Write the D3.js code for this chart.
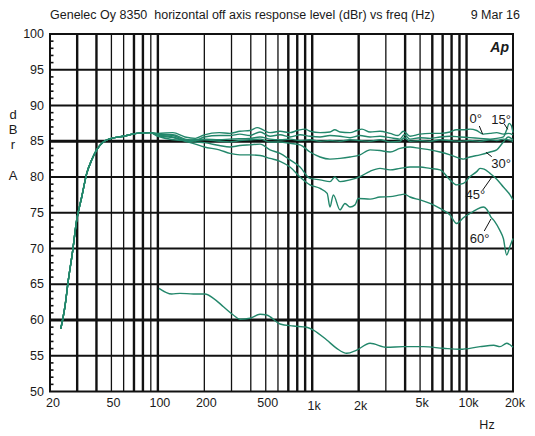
<!DOCTYPE html>
<html><head><meta charset="utf-8">
<script src="https://cdn.jsdelivr.net/npm/d3@7"></script>
<style>body{margin:0;background:#fff} text{font-family:"Liberation Sans",Arial,sans-serif;fill:#1a1a1a;white-space:pre}</style>
</head><body><svg id="c" width="535" height="436"></svg>
<script>
// ---- data (frequency Hz, level dBr) ----
const lowEnd = [[23.5,58.8],[25,61.9],[26.3,65.6],[27.9,69.3],[29.8,74.0],[32.1,77.2],[34.6,80.5],[37.3,82.4],[40.1,83.8],[44.3,84.9],[50,85.4],[60,85.7],[73,86.1],[89,86.2]];

const deg0 = [[100,86.1],[125,86.2],[150,85.6],[175,85.4],[200,85.9],[250,86.2],[293,86.1],[340,86.4],[395,86.5],[440,86.9],[480,86.6],[533,86.2],[619,86.4],[718,86.2],[800,86.5],[900,86.7],[968,86.4],[1124,86.2],[1304,86.3],[1400,86.6],[1514,86.3],[1758,86.2],[1950,86.5],[2100,86.7],[2369,86.3],[2750,86.4],[3193,86.1],[3600,85.8],[3900,86.4],[4303,85.7],[4995,86.0],[5800,86.1],[6732,86.1],[7817,86.3],[8600,86.6],[9535,86.6],[10532,86.7],[11636,86.5],[12846,86.0],[14196,86.1],[15690,86.2],[17320,86.0],[18660,86.1],[20000,85.9]];

const deg15 = [[100,85.9],[125,85.9],[150,85.3],[175,85.1],[200,85.6],[250,85.8],[293,85.8],[340,86.0],[395,85.8],[459,86.3],[533,85.7],[619,85.9],[718,85.6],[834,85.9],[968,85.7],[1124,85.6],[1304,85.8],[1514,85.7],[1758,85.5],[2041,85.8],[2369,85.6],[2750,85.7],[3193,85.5],[3706,85.3],[3950,85.9],[4303,85.3],[4995,85.5],[5800,85.4],[6732,85.6],[7817,85.7],[9073,85.6],[10532,85.5],[12228,85.4],[14196,85.3],[15690,85.4],[17320,85.6],[18200,86.6],[18900,87.5],[19500,87.2],[20000,86.2]];

const deg0b = [[100,85.7],[150,85.1],[200,85.3],[250,85.2],[293,85.3],[395,85.4],[459,85.6],[533,85.3],[619,85.2],[718,85.3],[834,85.1],[968,85.2],[1124,85.0],[1304,85.1],[1514,85.0],[1758,85.2],[2041,85.1],[2369,85.0],[2750,85.2],[3193,84.9],[3706,85.0],[3950,85.5],[4303,85.0],[4995,85.1],[5800,85.0],[6732,85.2],[7817,85.1],[9073,85.0],[10532,85.1],[12228,85.0],[14196,85.2],[15690,85.1],[17320,85.3],[18660,85.2],[20000,85.0]];

const deg30 = [[100,86.0],[125,85.8],[150,85.2],[175,85.1],[200,85.2],[250,85.0],[293,84.9],[340,85.1],[395,85.2],[459,85.3],[533,84.9],[619,84.9],[718,84.7],[834,84.5],[968,83.5],[1124,82.8],[1304,82.5],[1514,82.6],[1758,82.8],[2041,83.1],[2369,83.8],[2750,83.7],[3193,83.5],[3706,84.0],[4303,84.2],[4995,84.0],[5800,83.8],[6732,83.5],[7817,83.1],[9073,82.6],[9535,82.5],[10532,82.8],[12228,83.1],[14196,83.5],[15690,83.8],[17320,84.9],[18660,85.6],[20000,85.2]];

const deg45 = [[100,85.9],[125,85.6],[150,85.1],[175,84.9],[200,84.8],[250,84.4],[293,84.2],[340,84.4],[395,84.5],[459,84.6],[533,83.8],[619,83.3],[718,82.4],[834,81.4],[968,79.8],[1124,79.6],[1304,79.35],[1400,80.0],[1514,79.35],[1758,79.6],[2041,80.05],[2369,80.8],[2750,81.2],[3193,81.0],[3706,81.2],[4303,81.4],[4995,81.4],[5800,81.2],[6732,81.0],[7817,79.6],[8634,78.9],[9535,79.1],[10532,80.05],[11636,80.75],[12228,81.2],[13000,81.1],[14196,80.5],[15690,79.7],[17320,78.6],[19132,77.5],[20000,76.8]];

const deg60 = [[100,85.8],[125,85.5],[150,85.0],[175,84.6],[200,84.2],[250,83.8],[293,83.3],[340,83.1],[395,83.1],[459,83.0],[533,82.6],[619,82.2],[718,81.4],[834,80.0],[968,78.9],[1124,78.4],[1250,77.7],[1304,75.8],[1370,77.5],[1514,75.4],[1630,76.3],[1758,75.8],[1894,76.1],[1990,77.0],[2369,76.9],[2750,77.2],[3193,77.25],[3706,77.5],[3950,77.6],[4303,77.2],[4995,76.8],[5800,76.3],[6732,75.6],[7817,74.7],[8634,73.5],[9535,74.3],[10532,74.9],[11500,75.4],[12846,75.8],[13500,75.5],[14400,74.4],[15200,73.8],[16474,72.5],[17320,71.4],[18200,69.1],[19132,70.3],[20000,71.4]];

const floorCurve = [[101.7,64.43],[122.9,63.64],[139,63.73],[170,63.64],[202,63.64],[229,63.03],[266,61.86],[308,60.7],[340,60.1],[395,60.24],[459,60.8],[507,60.7],[619,59.44],[754,59.16],[921,58.98],[1018,58.6],[1242,57.2],[1441,56.04],[1673,55.34],[1942,55.8],[2369,56.74],[3040,56.18],[3894,56.27],[5249,56.27],[7072,56.04],[9073,55.9],[12228,56.27],[15000,56.46],[16474,56.27],[18200,56.74],[20000,56.18]];

const freqTicks  = [20,50,100,200,500,1000,2000,5000,10000,20000];
const freqLabels = ["20","50","100","200","500","1k","2k","5k","10k","20k"];
const dbTicks    = [50,55,60,65,70,75,80,85,90,95,100];
const dbLabels   = ["50","55","60","65","70","75","80","85","90","95","100"];

// annotation labels: [text, label f, label dB, leader f1, dB1, leader f2, dB2]
const angleLabels = [
  ["0°",  11480,88.25, 12100,87.13, 12730,85.97],
  ["15°", 16730,88.11, 17570,87.41, 18480,86.67],
  ["30°", 16730,81.92, 14560,82.84, 13370,83.45],
  ["45°", 11400,77.58, 12730,78.18, 14560,79.96],
  ["60°", 12160,71.37, 13030,72.45, 14400,74.13]
];

// ---- drawing ----
const svg = d3.select("#c");
const L=50, R=513, T=34, B=391.5;
const x = d3.scaleLog().domain([20,20000]).range([L,R]);
const y = d3.scaleLinear().domain([50,100]).range([B,T]);

// vertical grid: every 1-2-...-9 step per decade
const vgrid = [];
[10,100,1000].forEach(dec => { for (let m=1;m<=9;m++){ const f=dec*m; if(f>20) vgrid.push(f);} });
vgrid.push(10000);
const heavyV = new Set([30,40,70,80,100,700,800,900,1000,2000,4000,6000,7000,8000,9000,10000]);
const grid = svg.append("g");
vgrid.forEach(f=>{
  grid.append("line").attr("x1",x(f)).attr("x2",x(f)).attr("y1",T).attr("y2",B)
    .attr("stroke","#111").attr("stroke-width", heavyV.has(f)?2.4:1.3);
});
// horizontal grid
dbTicks.filter(v=>v>50 && v<100).forEach(v=>{
  grid.append("line").attr("x1",L).attr("x2",R).attr("y1",y(v)).attr("y2",y(v))
    .attr("stroke","#111").attr("stroke-width",(v===85||v===60)?3:2);
});
// minor ticks on left (every dB)
d3.range(51,100).filter(v=>v%5!==0).forEach(v=>{
  grid.append("line").attr("x1",L).attr("x2",L+3.5).attr("y1",y(v)).attr("y2",y(v))
    .attr("stroke","#111").attr("stroke-width",1.6);
});
// frame
svg.append("rect").attr("x",L).attr("y",T).attr("width",R-L).attr("height",B-T)
  .attr("fill","none").attr("stroke","#111").attr("stroke-width",2);

// curves
const line = d3.line().x(d=>x(d[0])).y(d=>y(d[1])).curve(d3.curveMonotoneX);
const col = "#23876b";
const curves = [deg60, deg45, deg30, deg0b, deg15, deg0].map(s=>lowEnd.concat(s));
curves.push(floorCurve);
svg.append("g").selectAll("path").data(curves).join("path")
  .attr("d",line).attr("fill","none").attr("stroke",col).attr("stroke-width",1.4)
  .attr("stroke-linejoin","round");

// angle labels
const ag = svg.append("g");
angleLabels.forEach(a=>{
  ag.append("line").attr("x1",x(a[3])).attr("y1",y(a[4])).attr("x2",x(a[5])).attr("y2",y(a[6]))
    .attr("stroke","#111").attr("stroke-width",1);
  ag.append("text").attr("x",x(a[1])).attr("y",y(a[2])).attr("text-anchor","middle")
    .attr("dominant-baseline","central").attr("font-size",13).text(a[0]);
});

// y tick labels
svg.append("g").selectAll("text").data(dbTicks).join("text")
  .attr("x",44).attr("y",d=>y(d)).attr("text-anchor","end").attr("dominant-baseline","central")
  .attr("font-size",12.5).text((d,i)=>dbLabels[i]);
// x tick labels
svg.append("g").selectAll("text").data(freqTicks).join("text")
  .attr("x",(d,i)=>x(d)+(i===0?3:2)).attr("y",(d,i)=>(freqLabels[i]==="1k"||freqLabels[i]==="2k")?406:403)
  .attr("text-anchor","middle").attr("dominant-baseline","central")
  .attr("font-size",12.5).text((d,i)=>freqLabels[i]);

// axis titles
svg.append("text").attr("x",487).attr("y",425).attr("text-anchor","middle").attr("dominant-baseline","central")
  .attr("font-size",12.5).text("Hz");
[["d",114],["B",129.5],["r",144.5],["A",175]].forEach(t=>{
  svg.append("text").attr("x",13).attr("y",t[1]).attr("text-anchor","middle").attr("dominant-baseline","central")
    .attr("font-size",13).text(t[0]);
});
// title
svg.append("text").attr("x",50).attr("y",15).attr("dominant-baseline","central").attr("font-size",12.5)
  .attr("xml:space","preserve")
  .text("Genelec Oy 8350  horizontal off axis response level (dBr) vs freq (Hz)");
svg.append("text").attr("x",520).attr("y",15).attr("text-anchor","end").attr("dominant-baseline","central").attr("font-size",12.5)
  .text("9 Mar 16");
// Ap logo
svg.append("text").attr("x",509).attr("y",47).attr("text-anchor","end").attr("dominant-baseline","central")
  .attr("font-size",14).attr("font-weight","bold").attr("font-style","italic").text("Ap");
</script></body></html>
